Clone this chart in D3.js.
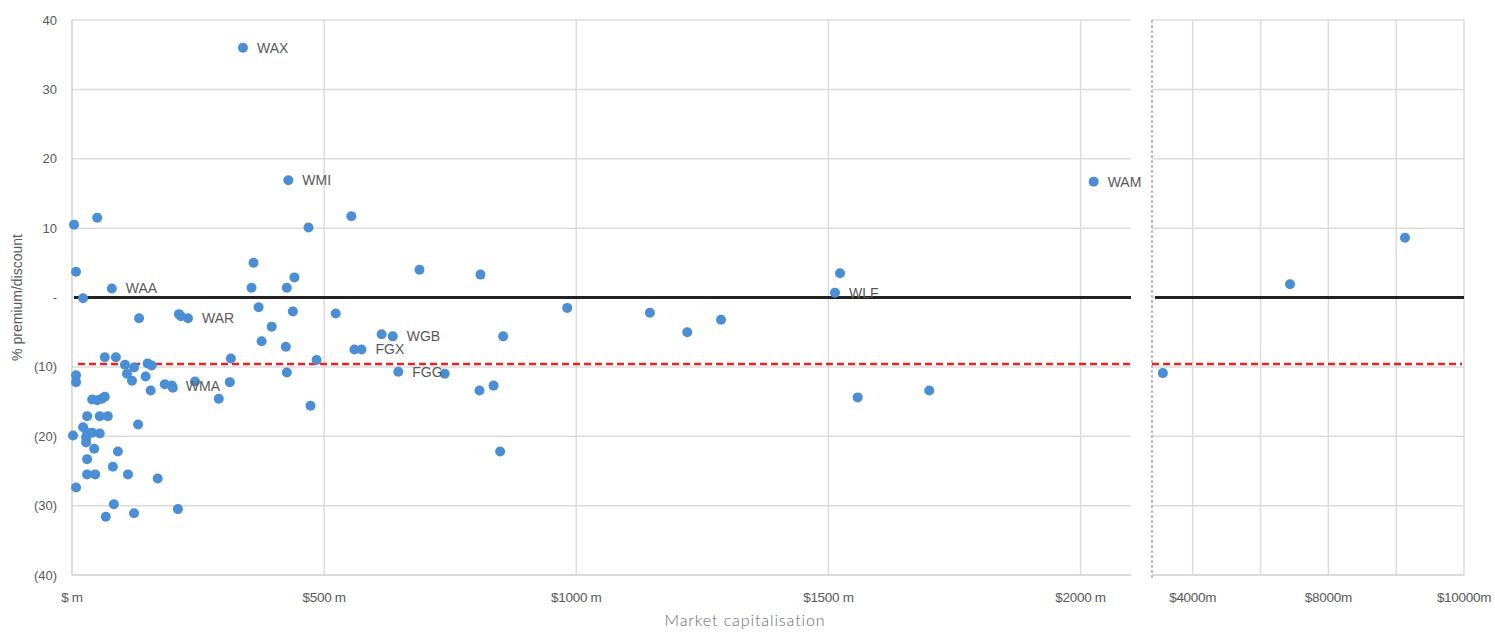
<!DOCTYPE html>
<html>
<head>
<meta charset="utf-8">
<script src="https://cdn.jsdelivr.net/npm/d3@7/dist/d3.min.js"></script>
<style>
  html, body { margin: 0; padding: 0; background: #fff; }
  svg { display: block; }
</style>
</head>
<body>
<svg id="chart" width="1495" height="632"></svg>
<script>
// ---------- DATA ----------
// Main panel: market capitalisation ($m) and % premium/discount
const marketCap = [4, 50, 8, 79, 22, 133, 212, 216, 230, 360, 356, 65, 87, 105, 123, 109, 119, 146, 150, 158,
  156, 315, 313, 291, 184, 198, 200, 244, 8, 8, 40, 50, 59, 65, 30, 55, 71, 131, 2, 22,
  30, 40, 55, 28, 28, 44, 91, 30, 81, 30, 46, 111, 170, 8, 83, 67, 123, 210, 441, 426,
  370, 438, 523, 396, 376, 424, 485, 426, 473, 429, 469, 554, 339, 689, 810, 614, 636, 560, 574, 855,
  647, 739, 808, 836, 849, 982, 1146, 1220, 1287, 1523, 1513, 1558, 1700, 2026];
const premium = [10.5, 11.5, 3.7, 1.3, -0.1, -3.0, -2.4, -2.7, -3.0, 5.0, 1.4, -8.6, -8.6, -9.7, -10.1, -11.0, -12.0, -11.4, -9.5, -9.8,
  -13.4, -8.8, -12.2, -14.6, -12.5, -12.7, -13.0, -12.1, -11.2, -12.2, -14.7, -14.8, -14.6, -14.3, -17.1, -17.1, -17.1, -18.3, -19.9, -18.7,
  -19.5, -19.5, -19.6, -20.2, -20.9, -21.8, -22.2, -23.3, -24.4, -25.5, -25.5, -25.5, -26.1, -27.4, -29.8, -31.6, -31.1, -30.5, 2.9, 1.4,
  -1.4, -2.0, -2.3, -4.2, -6.3, -7.1, -9.0, -10.8, -15.6, 16.9, 10.1, 11.7, 36.0, 4.0, 3.3, -5.3, -5.6, -7.5, -7.5, -5.6,
  -10.7, -11.0, -13.4, -12.7, -22.2, -1.5, -2.2, -5.0, -3.2, 3.5, 0.7, -14.4, -13.4, 16.7];
const pointLabels = {3: "WAA", 8: "WAR", 25: "WMA", 69: "WMI", 72: "WAX", 76: "WGB", 78: "FGX", 80: "FGG", 90: "WLF", 93: "WAM"};

// Large-cap panel
const bigCap = [3120, 6870, 10260];
const bigPremium = [-10.9, 1.9, 8.6];

// Reference lines
const zeroLine = 0;
const averageDiscount = -9.6;

// Axis ticks
const yTicks = [40, 30, 20, 10, 0, -10, -20, -30, -40];
const yTickLabels = ["40", "30", "20", "10", "-", "(10)", "(20)", "(30)", "(40)"];
const xTicks = [0, 500, 1000, 1500, 2000];
const xTickLabels = ["$ m", "$500 m", "$1000 m", "$1500 m", "$2000 m"];
const bigTicks = [4000, 6000, 8000, 10000, 12000];
const bigTickLabels = ["$4000m", "", "$8000m", "", "$10000m"];

// ---------- LAYOUT ----------
const svg = d3.select("#chart");
const plotTop = 20, plotBottom = 575;
const y = d3.scaleLinear().domain([-40, 40]).range([plotBottom, plotTop]);
const x = d3.scaleLinear().domain([0, 2100]).range([72, 1131]);
const x2 = d3.scaleLinear().domain([2800, 12000]).range([1152, 1464]);

const gridColor = "#dcdcdc";
const textColor = "#595959";
const dotColor = "#4a8fd6";

// Main panel grid
const g1 = svg.append("g");
g1.selectAll("line.h").data(yTicks.filter(d => d > -40)).join("line")
  .attr("x1", x(0)).attr("x2", x(2100)).attr("y1", d => y(d)).attr("y2", d => y(d))
  .attr("stroke", gridColor).attr("stroke-width", 1.5);
g1.selectAll("line.v").data(xTicks.filter(d => d > 0)).join("line")
  .attr("x1", d => x(d)).attr("x2", d => x(d)).attr("y1", plotTop).attr("y2", plotBottom)
  .attr("stroke", gridColor).attr("stroke-width", 1.5);
g1.append("line").attr("x1", x(0)).attr("x2", x(0)).attr("y1", plotTop).attr("y2", plotBottom)
  .attr("stroke", "#cfcfcf").attr("stroke-width", 1.5);
g1.append("line").attr("x1", x(0)).attr("x2", x(2100)).attr("y1", plotBottom).attr("y2", plotBottom)
  .attr("stroke", "#cfcfcf").attr("stroke-width", 1.5);

// Big panel grid
const g2 = svg.append("g");
g2.selectAll("line.h").data(yTicks).join("line")
  .attr("x1", x2(2800)).attr("x2", x2(12000)).attr("y1", d => y(d)).attr("y2", d => y(d))
  .attr("stroke", d => d === -40 ? "#cfcfcf" : gridColor).attr("stroke-width", 1.5);
g2.selectAll("line.v").data(bigTicks).join("line")
  .attr("x1", d => x2(d)).attr("x2", d => x2(d)).attr("y1", plotTop).attr("y2", plotBottom)
  .attr("stroke", gridColor).attr("stroke-width", 1.5);
g2.append("line").attr("x1", x2(2800)).attr("x2", x2(2800)).attr("y1", plotTop).attr("y2", plotBottom + 3)
  .attr("stroke", "#a8a8a8").attr("stroke-width", 1.5).attr("stroke-dasharray", "3,2");

// Reference lines
svg.append("line").attr("x1", x(0) + 2).attr("x2", x(2100)).attr("y1", y(zeroLine)).attr("y2", y(zeroLine))
  .attr("stroke", "#222").attr("stroke-width", 3);
svg.append("line").attr("x1", x2(2800) + 3).attr("x2", x2(12000)).attr("y1", y(zeroLine)).attr("y2", y(zeroLine))
  .attr("stroke", "#222").attr("stroke-width", 3);
svg.append("line").attr("x1", x(0) + 6).attr("x2", x(2100)).attr("y1", y(averageDiscount)).attr("y2", y(averageDiscount))
  .attr("stroke", "#ec2222").attr("stroke-width", 2.5).attr("stroke-dasharray", "7,4");
svg.append("line").attr("x1", x2(2800)).attr("x2", x2(12000) - 2).attr("y1", y(averageDiscount)).attr("y2", y(averageDiscount))
  .attr("stroke", "#ec2222").attr("stroke-width", 2.5).attr("stroke-dasharray", "7,4");

// Dots
const pts = marketCap.map((m, i) => ({m, p: premium[i], i}));
svg.append("g").selectAll("circle").data(pts).join("circle")
  .attr("cx", d => x(d.m)).attr("cy", d => y(d.p)).attr("r", 5).attr("fill", dotColor);
svg.append("g").selectAll("circle").data(bigCap.map((m, i) => ({m, p: bigPremium[i]}))).join("circle")
  .attr("cx", d => x2(d.m)).attr("cy", d => y(d.p)).attr("r", 5).attr("fill", dotColor);

// Point labels
svg.append("g").selectAll("text").data(pts.filter(d => pointLabels[d.i])).join("text")
  .attr("x", d => x(d.m) + 14).attr("y", d => y(d.p)).attr("dy", "0.35em")
  .attr("font-family", "'Liberation Sans', Arial, sans-serif").attr("font-size", 14)
  .attr("fill", textColor).text(d => pointLabels[d.i]);

// Y tick labels
svg.append("g").selectAll("text").data(yTicks).join("text")
  .attr("x", 57).attr("y", d => y(d)).attr("dy", "0.35em").attr("text-anchor", "end")
  .attr("font-family", "'Liberation Sans', Arial, sans-serif").attr("font-size", 13)
  .attr("fill", textColor).text((d, i) => yTickLabels[i]);

// X tick labels
svg.append("g").selectAll("text").data(xTicks).join("text")
  .attr("x", d => x(d)).attr("y", 602).attr("text-anchor", "middle")
  .attr("font-family", "'Liberation Sans', Arial, sans-serif").attr("font-size", 13.5)
  .attr("letter-spacing", -0.3)
  .attr("fill", textColor).text((d, i) => xTickLabels[i]);
svg.append("g").selectAll("text").data(bigTicks).join("text")
  .attr("x", d => x2(d)).attr("y", 602).attr("text-anchor", "middle")
  .attr("font-family", "'Liberation Sans', Arial, sans-serif").attr("font-size", 13.5)
  .attr("letter-spacing", -0.3)
  .attr("fill", textColor).text((d, i) => bigTickLabels[i]);

// Axis titles
svg.append("text").attr("transform", `translate(22, ${y(0)}) rotate(-90)`)
  .attr("text-anchor", "middle").attr("font-family", "'Liberation Sans', Arial, sans-serif")
  .attr("font-size", 14).attr("fill", textColor).text("% premium/discount");
svg.append("text").attr("x", 745).attr("y", 626).attr("text-anchor", "middle")
  .attr("font-family", "Lato, 'Open Sans', sans-serif").attr("font-weight", 300)
  .attr("font-size", 16).attr("letter-spacing", 0.9).attr("fill", "#6a6a6a").text("Market capitalisation");
</script>
</body>
</html>
